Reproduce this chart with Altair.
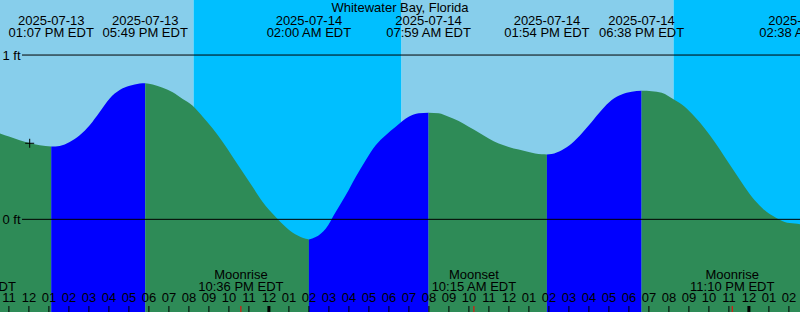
import altair as alt
import pandas as pd

TITLE = "Whitewater Bay, Florida"

# hours since 2025-07-13 00:00 EDT, water level in feet
hours = [10.54, 11.04, 11.54, 12.04, 12.54, 13.117, 13.54, 14.04, 14.54, 15.04, 15.54, 16.04,
         16.54, 17.04, 17.54, 17.817, 18.19, 18.69, 19.19, 19.69, 20.19, 20.69, 21.19, 21.69,
         22.19, 22.69, 23.19, 23.69, 24.34, 24.84, 25.34, 25.84, 26.0, 26.34, 26.84, 27.34,
         27.84, 28.34, 28.84, 29.34, 29.84, 30.34, 30.99, 31.49, 31.983, 32.49, 32.99, 33.49,
         33.99, 34.49, 34.99, 35.49, 35.99, 36.49, 36.99, 37.64, 37.9, 38.14, 38.64, 39.14,
         39.64, 40.14, 40.64, 41.14, 41.64, 42.14, 42.633, 43.14, 43.64, 44.29, 44.79, 45.29,
         45.79, 46.29, 46.79, 47.29, 47.79, 48.29, 48.79, 49.29, 49.79, 50.29, 50.633]
feet = [0.523, 0.502, 0.482, 0.465, 0.451, 0.443, 0.447, 0.471, 0.512, 0.573, 0.654, 0.736,
        0.787, 0.813, 0.827, 0.829, 0.821, 0.801, 0.773, 0.732, 0.691, 0.624, 0.553, 0.471,
        0.380, 0.288, 0.197, 0.105, 0.014, -0.047, -0.093, -0.118, -0.122, -0.108, -0.057, 0.045,
        0.146, 0.258, 0.360, 0.451, 0.512, 0.563, 0.624, 0.645, 0.649, 0.645, 0.624, 0.598,
        0.563, 0.529, 0.492, 0.462, 0.441, 0.425, 0.410, 0.396, 0.395, 0.398, 0.421, 0.462,
        0.523, 0.593, 0.665, 0.726, 0.760, 0.776, 0.782, 0.780, 0.770, 0.726, 0.685, 0.624,
        0.553, 0.471, 0.380, 0.288, 0.197, 0.116, 0.055, 0.014, -0.016, -0.026, -0.031]

ext_hours = [13.117, 17.817, 26.0, 31.983, 37.9, 42.633, 50.633]
ext_kind = ["low", "high", "low", "high", "low", "high", "low"]
ext_dates = ["2025-07-13", "2025-07-13", "2025-07-14", "2025-07-14", "2025-07-14",
             "2025-07-14", "2025-07-15"]
ext_times = ["01:07 PM EDT", "05:49 PM EDT", "02:00 AM EDT", "07:59 AM EDT", "01:54 PM EDT",
             "06:38 PM EDT", "02:38 AM EDT"]

moon_hours = [9.233, 22.6, 34.25, 47.167]
moon_names = ["Moonset", "Moonrise", "Moonset", "Moonrise"]
moon_times = ["09:14 AM EDT", "10:36 PM EDT", "10:15 AM EDT", "11:10 PM EDT"]

sun_start = [10.555, 20.233, 30.633, 44.233]
sun_end = [20.233, 30.633, 44.233, 50.555]
sun_kind = ["day", "night", "day", "night"]

tick_hours = list(range(11, 51))
tick_labels = [f"{(h - 1) % 12 + 1:02d}" for h in tick_hours]
midnight_hours = [24, 48]

level_ft = [0, 1]
level_labels = ["0 ft", "1 ft"]

marker_h = [12.04]
marker_ft = [0.463]

X0, X1 = 10.555, 50.555
Y0, Y1 = -0.564, 1.335
W, H = 800, 312
FONT = "Liberation Sans"
FS = 13

xs = alt.Scale(domain=[X0, X1], nice=False, zero=False)
ys = alt.Scale(domain=[Y0, Y1], nice=False, zero=False)

# tide segments (rising/falling) between extremes
bounds = [hours[0]] + ext_hours
rows = []
for i in range(len(ext_hours)):
    a, b = bounds[i], bounds[i + 1]
    phase = "rising" if ext_kind[i] == "high" else "falling"
    for h, f in zip(hours, feet):
        if a - 1e-9 <= h <= b + 1e-9:
            rows.append({"h": h, "ft": f, "base": Y0, "seg": i, "phase": phase})
tide = pd.DataFrame(rows)

sun = pd.DataFrame({"start": sun_start, "end": sun_end, "kind": sun_kind})
ext = pd.DataFrame({"h": ext_hours, "date": ext_dates, "time": ext_times})
moon = pd.DataFrame({"h": moon_hours, "name": moon_names, "time": moon_times})
ticks = pd.DataFrame({"h": tick_hours, "label": tick_labels,
                      "w": [3 if h in midnight_hours else 1 for h in tick_hours]})
levels = pd.DataFrame({"ft": level_ft, "label": level_labels})
marker = pd.DataFrame({"h": marker_h, "ft": marker_ft})
title = pd.DataFrame({"t": [TITLE]})

bg = alt.Chart(sun).mark_rect(clip=True).encode(
    x=alt.X("start:Q", scale=xs, axis=None), x2="end:Q",
    y=alt.value(0), y2=alt.value(H),
    color=alt.Color("kind:N", scale=alt.Scale(domain=["day", "night"],
                                              range=["#87CEEB", "#00BFFF"]), legend=None),
)

area_layers = []
for i in range(len(ext_hours)):
    seg = tide[tide.seg == i]
    fill = "#0000FF" if seg.phase.iloc[0] == "rising" else "#2E8B57"
    area_layers.append(
        alt.Chart(seg).mark_area(clip=True, color=fill, opacity=1,
                                 interpolate="monotone").encode(
            x=alt.X("h:Q", scale=xs, axis=None),
            y=alt.Y("ft:Q", scale=ys, axis=None),
            y2="base:Q",
        )
    )

lines = alt.Chart(levels).mark_rule(color="black", strokeWidth=1).encode(
    x=alt.value(22), x2=alt.value(W),
    y=alt.Y("ft:Q", scale=ys, axis=None),
)
line_labels = alt.Chart(levels).mark_text(font=FONT, fontSize=FS, align="left",
                                          baseline="alphabetic", dy=5, color="black").encode(
    x=alt.value(2.5), y=alt.Y("ft:Q", scale=ys, axis=None), text="label:N",
)

mark = alt.Chart(marker).mark_point(shape="M-1,0L1,0M0,-1L0,1", size=81, filled=False,
                                    color="black", strokeWidth=1, opacity=1).encode(
    x=alt.X("h:Q", scale=xs, axis=None), y=alt.Y("ft:Q", scale=ys, axis=None),
)

title_txt = alt.Chart(title).mark_text(font=FONT, fontSize=FS, align="center",
                                       baseline="alphabetic", color="black").encode(
    x=alt.value(W / 2), y=alt.value(11.5), text="t:N",
)

ext_date_txt = alt.Chart(ext).mark_text(font=FONT, fontSize=FS, align="center",
                                        baseline="alphabetic", color="black").encode(
    x=alt.X("h:Q", scale=xs, axis=None), y=alt.value(24.5), text="date:N",
)
ext_time_txt = alt.Chart(ext).mark_text(font=FONT, fontSize=FS, align="center",
                                        baseline="alphabetic", color="black").encode(
    x=alt.X("h:Q", scale=xs, axis=None), y=alt.value(37), text="time:N",
)

moon_name_txt = alt.Chart(moon).mark_text(font=FONT, fontSize=FS, align="center",
                                          baseline="alphabetic", color="black").encode(
    x=alt.X("h:Q", scale=xs, axis=None), y=alt.value(278.5), text="name:N",
)
moon_time_txt = alt.Chart(moon).mark_text(font=FONT, fontSize=FS, align="center",
                                          baseline="alphabetic", color="black").encode(
    x=alt.X("h:Q", scale=xs, axis=None), y=alt.value(290.5), text="time:N",
)

hour_txt = alt.Chart(ticks).mark_text(font=FONT, fontSize=FS, align="center",
                                      baseline="alphabetic", color="black").encode(
    x=alt.X("h:Q", scale=xs, axis=None), y=alt.value(302), text="label:N",
)
hour_ticks = alt.Chart(ticks).mark_rule(color="black").encode(
    x=alt.X("h:Q", scale=xs, axis=None), y=alt.value(306), y2=alt.value(H),
    strokeWidth=alt.StrokeWidth("w:Q", scale=None, legend=None),
)
moon_ticks = alt.Chart(moon).mark_rule(color="#FF0000", strokeWidth=1).encode(
    x=alt.X("h:Q", scale=xs, axis=None), y=alt.value(306), y2=alt.value(H),
)

chart = alt.layer(
    bg, *area_layers, lines, line_labels, mark, title_txt, ext_date_txt, ext_time_txt,
    moon_name_txt, moon_time_txt, hour_txt, hour_ticks, moon_ticks,
).properties(
    width=W, height=H, padding=0, autosize=alt.AutoSizeParams(type="none"),
).configure_view(stroke=None)

chart.save("out.html", embed_options={"renderer": "svg", "actions": False})
